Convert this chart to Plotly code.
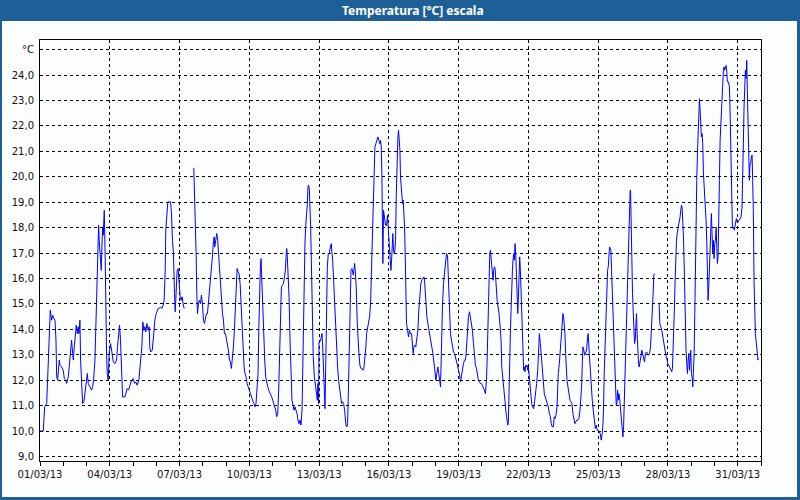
import pandas as pd
import plotly.graph_objects as go

# ---- data: hours since 01/03/2013 00:00 and temperature (°C) ----
hours_a = [0, 3.4, 4.1, 4.8, 6.9, 7.6, 8.6, 9.6, 10.6, 12.0, 13.1, 14.4, 15.5, 16.5, 17.2, 18.2, 18.9, 19.9, 20.6, 22.3,
           24.0, 25.1, 26.4, 27.5, 29.2, 30.2, 31.6, 32.6, 33.7, 34.4, 35.4, 36.4, 37.4, 38.5, 39.5, 40.2, 41.2, 41.9, 42.9, 44.0,
           45.3, 46.4, 47.4, 48.8, 49.8, 51.5, 53.2, 54.3, 55.3, 56.7, 57.7, 58.4, 59.4, 60.5, 61.1, 62.2, 63.2, 63.9, 64.6, 65.3,
           66.3, 67.3, 68.0, 68.7, 69.4, 70.4, 71.4, 72.8, 73.9, 75.6, 77.3, 79.0, 80.0, 81.1, 82.1, 83.1, 84.2, 85.2, 87.6, 88.6,
           90.0, 91.4, 92.7, 94.5, 96.2, 97.6, 98.9, 100.3, 102.0, 103.1, 104.1, 105.1, 106.1, 107.2, 108.2, 109.2, 110.3, 111.6,
           112.7, 113.4, 114.4, 115.8, 117.1, 118.5, 119.9, 120.9, 121.9, 123.0, 124.3, 125.7, 127.1, 128.1, 129.2, 129.8, 130.9,
           131.9, 134.7, 135.7, 136.7, 137.7, 138.8, 139.5, 140.1, 140.8, 141.5, 142.6, 143.6, 144.6, 145.6, 146.7, 147.7, 148.7]
temp_a = [10.0, 10.0, 10.49, 10.95, 11.08, 11.74, 12.39, 13.70, 14.75, 14.36, 14.55, 14.42, 14.36, 13.57, 12.13, 12.0, 12.39, 12.79, 12.59, 12.52,
          12.39, 12.06, 12.0, 11.87, 12.13, 12.65, 13.18, 13.57, 13.05, 12.79, 13.31, 13.83, 14.16, 13.83, 14.10, 13.83, 14.36, 12.79, 11.74, 11.08,
          11.15, 11.47, 11.87, 12.26, 11.87, 11.74, 11.61, 11.74, 12.0, 12.79, 14.10, 15.67, 17.24, 18.09, 17.50, 16.72, 16.32, 17.24, 18.03, 17.70,
          18.68, 16.72, 14.23, 12.98, 12.26, 12.0, 13.05, 13.44, 13.18, 12.72, 12.65, 12.79, 13.31, 13.96, 14.16, 13.57, 12.0, 11.34, 11.34, 11.47,
          11.67, 11.61, 11.74, 12.0, 12.06, 11.87, 11.93, 11.80, 12.0, 12.46, 12.79, 13.31, 14.29, 13.96, 14.10, 13.90, 14.23, 13.96,
          14.10, 13.24, 13.11, 13.18, 13.70, 14.36, 14.62, 14.69, 14.82, 14.82, 14.88, 14.82, 14.95, 15.14, 16.32, 17.90, 18.62,
          19.01, 19.01, 18.55, 17.50, 16.98, 15.41, 14.69, 15.14, 16.06, 16.32, 16.39, 15.54, 15.28, 15.14, 15.28, 15.01, 14.82]

hours_b = [158.7, 159.4, 160.1, 161.1, 161.8, 162.5, 163.5, 164.5, 165.6, 166.6, 167.6, 168.7, 169.7, 170.7, 171.8, 172.8, 173.8, 174.8,
           175.9, 176.9, 177.9, 179.0, 179.7, 180.3, 181.4, 182.4, 183.4, 184.5, 186.5, 187.2, 188.3, 189.3, 190.3, 191.4, 192.4, 193.4,
           194.4, 195.5, 196.5, 197.5, 198.6, 199.6, 200.6, 201.7, 202.7, 203.4, 204.4, 205.4, 206.5, 207.5, 208.5, 209.6, 210.6, 211.6,
           212.6, 213.7, 214.7, 215.7, 216.8, 217.8, 218.8, 219.9, 220.9, 221.9, 222.9, 224.0, 225.0, 225.7, 226.4, 227.4, 228.1, 228.8,
           229.8, 230.9, 231.9, 232.9, 233.9, 235.0, 236.0, 237.0, 238.1, 239.1, 240.1, 241.2, 242.2, 243.2, 244.2, 245.3, 246.3, 247.3,
           248.0, 249.1, 250.1, 251.1, 252.1, 253.2, 253.9, 254.6, 255.2, 255.9, 257.0, 258.0, 259.0, 260.0, 261.1, 262.1, 263.1, 264.2,
           265.2, 266.2, 267.3, 268.3, 269.3, 270.4, 271.0, 271.7, 272.4, 273.4, 274.1, 275.2, 275.9, 276.5, 277.2, 277.9, 278.6, 279.3,
           280.0, 280.7, 281.3, 282.0, 283.1, 284.1, 285.1, 286.2, 286.8, 287.5, 287.9, 288.9, 289.9, 291.0, 291.7, 292.3, 293.4, 294.1,
           294.7, 295.4, 296.5, 297.5, 298.5, 299.6, 300.6, 301.3, 302.0, 303.0, 304.0, 305.0, 306.1, 307.1, 308.1, 309.2, 310.2, 311.2,
           312.3, 313.3, 314.3, 315.0, 315.7, 316.7, 317.4, 318.1, 318.8, 319.5, 320.2, 320.9, 321.9, 322.6, 323.3, 323.9, 324.6, 325.3,
           326.3, 327.4, 328.4, 329.1, 330.1, 331.2, 332.2, 333.2, 334.2, 335.3, 336.3, 337.0, 338.0, 339.1]
temp_b = [20.35, 19.60, 18.22, 16.98, 15.41, 14.62, 15.01, 15.14, 15.01, 15.34, 15.01, 14.36, 14.23, 14.49, 14.62, 14.62, 15.01, 15.41,
          15.93, 16.32, 16.85, 17.50, 17.63, 17.24, 17.50, 17.77, 17.50, 16.85, 15.67, 14.88, 14.62, 14.36, 13.83, 13.83, 13.64, 13.44,
          13.18, 12.79, 12.72, 12.46, 12.79, 13.31, 13.96, 15.14, 16.19, 16.39, 16.26, 16.19, 15.80, 15.01, 13.83, 12.79, 12.52, 12.26,
          12.13, 11.87, 11.74, 11.61, 11.47, 11.41, 11.28, 11.15, 11.08, 10.95, 11.08, 11.61, 12.26, 13.83, 15.60, 16.46, 16.78, 15.93,
          14.88, 13.90, 12.79, 12.13, 11.87, 11.74, 11.61, 11.54, 11.47, 11.34, 11.21, 11.08, 11.02, 10.82, 10.56, 10.69, 11.61, 13.31,
          14.36, 15.67, 15.73, 15.80, 16.0, 16.32, 16.85, 17.18, 16.85, 16.19, 15.28, 13.57, 12.26, 11.21, 11.02, 10.82, 10.95, 10.82,
          10.69, 10.43, 10.29, 10.43, 10.23, 10.82, 12.26, 14.23, 16.06, 17.37, 18.03, 18.42, 18.94, 19.60, 19.67, 19.53, 18.94, 18.03,
          16.72, 15.14, 13.83, 12.92, 12.13, 11.74, 11.34, 11.21, 11.87, 11.08, 13.51, 13.51, 13.64, 13.83, 13.31, 12.26, 11.61, 10.88,
          12.26, 14.49, 16.46, 16.98, 16.98, 17.24, 17.37, 16.98, 16.72, 15.93, 15.01, 14.10, 13.31, 12.52, 12.0, 11.67, 11.21, 11.08,
          11.15, 11.08, 10.82, 10.56, 10.23, 10.16, 10.29, 11.34, 12.79, 14.62, 15.93, 16.32, 16.39, 16.19, 16.13, 16.32, 16.59, 16.32,
          15.67, 14.23, 13.31, 13.05, 12.59, 12.46, 12.46, 12.39, 12.46, 12.79, 13.31, 13.83, 14.10, 14.29]

hours_c = [340.1, 341.1, 341.8, 342.8, 343.5, 344.6, 345.6, 346.6, 347.7, 348.7, 349.7, 350.7, 351.4, 352.1, 352.8, 353.2, 353.8, 354.5,
           355.6, 356.6, 357.6, 358.6, 359.7, 360.7, 361.4, 362.1, 362.8, 363.5, 364.1, 364.8, 365.5, 366.2, 366.9, 367.6, 368.6, 369.3,
           370.0, 370.7, 371.4, 372.0, 372.7, 373.4, 374.1, 374.8, 375.5, 376.2, 376.9, 377.5, 378.2, 379.3, 380.3, 381.3, 382.4, 383.4,
           384.4, 385.1, 385.8, 386.8, 387.8, 388.9, 389.9, 390.9, 392.0, 393.0, 394.0, 395.1, 396.1, 396.8, 397.5, 398.2, 399.2, 400.2,
           401.2, 402.3, 403.3, 404.3, 405.4, 406.4, 407.4, 408.5, 409.5, 410.5, 411.5, 412.6, 413.3, 414.0, 414.6, 415.3, 416.4, 417.4,
           418.4, 419.4, 420.5, 421.2, 421.9, 422.5, 423.6, 424.6, 425.6, 426.7, 427.7, 428.7, 429.8, 430.8, 431.8, 432.8, 433.9, 434.9,
           435.9, 437.0, 438.0, 439.0, 439.7, 440.4, 441.1, 442.1, 443.2, 444.2, 445.2, 446.2, 447.3, 448.3, 449.3, 450.4, 451.4, 452.4,
           453.5, 454.5, 455.5, 456.5, 457.6, 458.6, 459.6, 460.7, 461.4, 462.0, 462.7, 463.4, 464.1, 464.8, 465.5, 466.2, 466.9, 467.5,
           468.2, 468.9, 469.6, 470.3, 471.0, 471.7, 472.7, 473.7, 474.8, 475.8, 476.5, 477.5, 478.5, 479.2, 479.9, 480.6, 481.3, 482.0,
           482.7, 483.3, 484.0, 484.7, 485.4, 486.1, 486.8, 487.5, 488.1, 488.8, 489.5, 490.2, 490.9, 491.6, 492.3, 493.0, 493.6, 494.3,
           495.0, 495.7, 496.4, 497.1, 497.8, 498.5, 499.1, 499.8, 500.5, 501.2, 501.9, 502.6, 503.3, 504.0, 504.6, 505.3, 506.0, 506.7,
           507.4, 508.4, 509.4, 510.5, 511.5, 512.5, 513.6, 514.3]
temp_c = [14.49, 15.01, 15.93, 16.72, 17.77, 19.86, 21.17, 21.30, 21.43, 21.57, 21.43, 21.30, 21.43, 21.17, 20.12, 17.77, 16.59, 18.68,
          18.29, 18.09, 18.09, 18.48, 17.77, 16.98, 16.72, 16.32, 16.72, 17.50, 17.77, 17.11, 16.98, 17.11, 17.50, 19.21, 21.04, 21.57,
          21.83, 21.43, 21.04, 19.99, 19.60, 19.21, 18.94, 19.08, 18.55, 18.03, 16.85, 15.14, 14.23, 13.96, 13.70, 13.96, 13.83, 13.83,
          13.44, 13.05, 13.31, 13.37, 13.31, 13.57, 13.96, 14.75, 15.41, 15.80, 15.93, 16.0, 16.06, 15.93, 15.41, 14.88, 14.49, 14.23,
          13.96, 13.70, 13.57, 13.31, 13.05, 12.79, 12.39, 12.0, 12.26, 12.52, 12.26, 12.0, 11.74, 12.79, 13.96, 14.88, 15.80, 16.19,
          16.85, 16.98, 16.91, 16.06, 15.01, 14.23, 13.83, 13.57, 13.31, 13.11, 13.05, 12.92, 12.79, 12.59, 12.39, 12.26, 11.93, 12.20,
          12.39, 12.65, 12.79, 12.79, 13.05, 13.51, 14.10, 14.49, 14.69, 14.49, 14.23, 13.96, 13.44, 12.79, 12.59, 12.46, 12.13, 12.0,
          11.93, 11.87, 11.87, 11.80, 11.74, 11.61, 11.47, 12.0, 12.79, 13.96, 15.01, 16.32, 16.98, 17.11, 16.85, 16.46, 16.19, 15.93,
          16.32, 16.46, 16.39, 15.93, 15.28, 15.14, 14.88, 14.62, 14.10, 13.57, 12.52, 12.0, 11.61, 11.34, 11.15, 10.82, 10.56, 10.43,
          10.23, 10.36, 11.21, 12.26, 13.83, 14.75, 15.93, 16.32, 16.72, 16.98, 16.72, 17.37, 16.98, 16.19, 15.14, 14.62, 15.14, 16.19,
          16.85, 16.32, 15.41, 14.62, 13.57, 12.65, 12.39, 12.52, 12.33, 12.59, 12.52, 12.59, 12.39, 12.52, 12.26, 12.0, 11.61, 11.34,
          11.08, 10.95, 10.88, 11.21, 11.47, 11.87, 12.39, 13.31]

hours_d = [515.3, 516.3, 517.0, 517.7, 518.3, 519.0, 519.7, 520.4, 521.4, 522.5, 523.5, 524.5, 525.6, 526.6, 527.6, 528.6, 529.7, 530.7,
           531.4, 532.4, 533.5, 534.1, 534.8, 535.9, 536.9, 537.9, 539.0, 539.6, 540.3, 541.0, 541.7, 542.4, 543.1, 543.8, 544.8, 545.8,
           546.9, 547.9, 548.9, 549.9, 551.0, 552.0, 553.0, 554.1, 555.1, 556.1, 557.2, 558.2, 558.9, 559.6, 560.2, 560.9, 562.0, 563.0,
           564.0, 565.1, 565.7, 566.8, 567.8, 568.8, 569.9, 570.9, 571.9, 573.0, 574.0, 575.0, 576.0, 577.1, 578.1, 579.1, 580.2, 580.9,
           581.5, 582.2, 582.9, 583.6, 584.3, 585.0, 585.7, 586.4, 587.0, 587.7, 588.4, 589.1, 589.8, 590.5, 591.2, 591.9, 592.5, 593.2,
           593.9, 594.6, 595.3, 596.0, 596.7, 597.3, 598.0, 598.7, 599.4, 600.1, 600.8, 601.5, 602.2, 602.8, 603.5, 604.2, 604.9, 605.6,
           606.3, 607.0, 607.7, 608.3, 609.0, 609.4, 610.1, 610.7, 611.4, 612.1, 612.8, 613.5, 614.2, 614.9, 615.5, 616.2, 616.9, 617.6,
           618.3, 619.0, 620.0, 621.0, 621.7, 622.8, 623.8, 624.8, 625.9, 626.9, 627.9, 629.0, 630.0, 630.7, 631.4, 632.0, 632.7, 633.4,
           634.1]
temp_d = [13.83, 13.44, 13.05, 12.79, 12.39, 12.13, 11.87, 11.47, 11.34, 11.21, 11.08, 10.95, 10.69, 10.56, 10.29, 10.16, 10.16, 10.56,
          10.49, 10.62, 10.95, 11.87, 12.26, 12.65, 13.18, 13.70, 14.23, 14.62, 14.49, 14.23, 13.83, 13.05, 12.39, 12.0, 11.74, 11.47,
          11.21, 11.15, 11.08, 10.69, 10.43, 10.29, 10.36, 10.43, 10.43, 10.49, 10.82, 11.21, 11.74, 12.65, 13.31, 13.24, 12.98, 13.05,
          13.18, 13.70, 13.83, 13.05, 12.26, 11.74, 11.21, 10.82, 10.56, 10.10, 10.23, 10.03, 10.03, 9.97, 9.90, 9.64, 9.90, 10.29,
          10.82, 12.26, 13.18, 14.36, 15.41, 15.73, 16.32, 16.46, 16.72, 17.24, 17.18, 17.11, 16.32, 15.54, 14.62, 13.57, 12.65, 11.74,
          11.21, 11.02, 11.08, 11.61, 11.21, 11.47, 11.34, 10.95, 10.69, 10.16, 10.03, 9.77, 10.16, 11.02, 11.74, 12.39, 13.83, 14.49,
          15.80, 16.85, 18.42, 18.94, 19.47, 19.47, 18.55, 16.85, 15.41, 14.75, 14.10, 13.44, 13.57, 14.10, 14.62, 13.83, 13.05, 12.65,
          12.52, 12.79, 12.92, 13.18, 13.05, 12.79, 12.72, 13.05, 13.11, 13.05, 12.98, 13.05, 13.31, 13.83, 14.23, 14.88, 15.41, 16.13,
          16.19]

hours_e = [638.9, 639.6, 640.6, 641.7, 642.7, 643.7, 644.8, 645.8, 646.5, 647.2, 647.8, 648.9, 649.9, 650.9, 651.9, 652.6, 653.3, 654.0,
           654.7, 655.4, 656.1, 656.8, 657.5, 658.1, 659.2, 659.9, 660.5, 661.2, 661.9, 662.6, 663.3, 664.0, 664.7, 665.4, 666.0, 666.7,
           667.4, 668.1, 668.8, 669.5, 670.2, 670.9, 671.5, 672.2, 672.9, 673.6, 674.3, 675.0, 675.7, 676.3, 677.0, 677.7, 678.4, 679.1,
           679.8, 680.5, 681.2, 681.8, 682.5, 683.2, 683.9, 684.6, 685.3, 686.0, 686.7, 687.3, 688.0, 688.7, 689.4, 690.1, 690.8, 691.5,
           692.2, 692.8, 693.5, 694.2, 694.9, 695.6, 696.3, 697.0, 697.7, 698.3, 699.0, 699.7, 700.4, 701.1, 701.8, 702.5, 703.1, 703.8,
           704.5, 705.2, 705.9, 706.6, 707.3, 707.9, 708.6, 709.3, 710.4, 711.4, 712.1, 712.8, 713.1, 713.8, 714.5, 715.2, 715.9, 716.5,
           717.2, 717.9, 718.6, 719.3, 720.3, 721.3, 722.4, 723.4, 724.4, 725.1, 725.8, 726.5, 727.2, 727.9, 728.6, 729.3, 729.9, 730.6,
           731.3, 732.0, 732.7, 733.4, 734.1, 734.8, 735.4, 736.1, 736.8, 737.5, 738.2, 738.9, 739.6, 740.2, 740.9, 741.3]
temp_e = [15.01, 14.23, 14.10, 13.96, 13.70, 13.44, 13.18, 13.05, 12.85, 12.79, 12.65, 12.59, 12.52, 12.39, 12.33, 12.46, 13.05, 13.83,
          14.88, 15.93, 16.98, 17.50, 17.77, 17.90, 18.03, 18.16, 18.42, 18.68, 18.88, 18.81, 18.29, 17.63, 16.59, 15.41, 13.44, 13.11,
          12.65, 12.26, 12.79, 13.05, 12.39, 12.92, 13.18, 12.26, 12.13, 11.74, 12.26, 13.05, 14.62, 16.72, 18.29, 19.86, 20.91, 21.96,
          22.88, 23.07, 22.61, 21.83, 21.57, 21.70, 21.30, 20.12, 19.60, 19.60, 19.08, 18.29, 17.50, 16.46, 15.14, 15.67, 16.46, 17.37,
          18.03, 18.55, 17.77, 16.98, 17.50, 16.78, 17.37, 17.50, 18.03, 17.50, 16.59, 16.85, 17.90, 19.86, 21.43, 22.09, 22.48, 23.27,
          23.93, 24.19, 24.32, 24.19, 24.32, 24.38, 24.19, 23.73, 23.73, 23.53, 22.55, 21.17, 19.73, 18.03, 18.03, 17.96, 18.03, 17.90,
          18.09, 18.29, 18.36, 18.22, 18.22, 18.29, 18.36, 18.42, 18.81, 19.73, 21.30, 22.75, 23.66, 24.19, 23.86, 24.58, 23.40, 21.96,
          20.91, 19.86, 20.52, 20.52, 20.78, 20.85, 19.86, 18.68, 15.93, 14.49, 13.83, 13.57, 13.18, 12.98, 12.79, 12.85]

# continuous runs of readings; data gaps lie between runs
runs = [[(hours_a, temp_a)],
        [(hours_b, temp_b), (hours_c, temp_c), (hours_d, temp_d)],
        [(hours_e, temp_e)]]

y_tick_vals = [9, 10, 11, 12, 13, 14, 15, 16, 17, 18, 19, 20, 21, 22, 23, 24, 25]
y_tick_text = ["9,0", "10,0", "11,0", "12,0", "13,0", "14,0", "15,0", "16,0", "17,0",
               "18,0", "19,0", "20,0", "21,0", "22,0", "23,0", "24,0", "°C"]
title_text = "Temperatura [°C] escala"

base = pd.Timestamp("2013-03-01 00:00")
xs, ys = [], []
for i, run in enumerate(runs):
    if i > 0:
        xs.append(None)
        ys.append(None)
    for hh, tt in run:
        xs.extend(list(base + pd.to_timedelta(hh, unit="h")))
        ys.extend(tt)

BLUE = "#1e5f98"
BG = "#fcfefd"

fig = go.Figure()
fig.add_trace(go.Scatter(x=xs, y=ys, mode="lines", line=dict(color="#0000ff", width=1),
                         connectgaps=False, hoverinfo="skip", showlegend=False))

W, H = 800, 500
L, R, T, B = 40, 761, 40, 461
pw, ph = R - L, B - T


def px(xp):
    return (xp - L) / pw


def py(yp):
    return (B - yp) / ph


shapes = [
    dict(type="rect", xref="paper", yref="paper", x0=px(0), x1=px(800), y0=py(21), y1=py(0),
         fillcolor=BLUE, line=dict(width=0), layer="below"),
    dict(type="rect", xref="paper", yref="paper", x0=px(0), x1=px(2), y0=py(500), y1=py(21),
         fillcolor=BLUE, line=dict(width=0), layer="below"),
    dict(type="rect", xref="paper", yref="paper", x0=px(797), x1=px(800), y0=py(500), y1=py(21),
         fillcolor=BLUE, line=dict(width=0), layer="below"),
    dict(type="rect", xref="paper", yref="paper", x0=px(0), x1=px(800), y0=py(500), y1=py(497),
         fillcolor=BLUE, line=dict(width=0), layer="below"),
]

fig.update_layout(
    width=W, height=H,
    margin=dict(l=L, r=W - R, t=T, b=H - B, pad=0),
    paper_bgcolor=BG, plot_bgcolor=BG,
    font=dict(family="DejaVu Sans", size=10, color="#101010"),
    shapes=shapes,
    annotations=[dict(text="<b>" + title_text + "</b>", xref="paper", yref="paper",
                      x=px(413), y=py(10.5), xanchor="center", yanchor="middle", showarrow=False,
                      font=dict(family="Noto Sans", size=12, color="white"))],
    showlegend=False,
)

fig.update_xaxes(
    type="date",
    range=[base, base + pd.Timedelta(days=31)],
    tickmode="linear", tick0=base, dtick=3 * 86400000,
    tickformat="%d/%m/%y",
    showgrid=True, gridcolor="black", gridwidth=1, griddash="3px,3px",
    showline=True, linecolor="black", linewidth=1, mirror=True,
    ticks="outside", ticklen=4, tickcolor="black",
    minor=dict(dtick=86400000, ticks="outside", ticklen=4, tickcolor="black", showgrid=False),
    zeroline=False,
    fixedrange=True,
)
fig.update_yaxes(
    range=[8.82, 25.38],
    tickmode="array", tickvals=y_tick_vals, ticktext=y_tick_text,
    showgrid=True, gridcolor="black", gridwidth=1, griddash="3px,3px",
    showline=True, linecolor="black", linewidth=1, mirror=True,
    ticks="", ticklabelstandoff=3,
    zeroline=False,
    fixedrange=True,
)

fig.write_html("out.html", config={"displayModeBar": False},
               post_script="document.body.style.margin='0';document.body.style.overflow='hidden';")
